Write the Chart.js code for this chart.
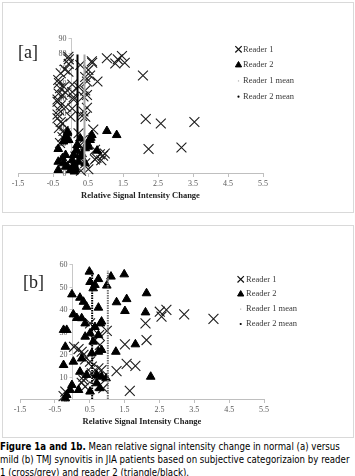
<!DOCTYPE html>
<html><head><meta charset="utf-8">
<script src="https://cdn.jsdelivr.net/npm/chart.js@4"></script>
<style>
html,body{margin:0;padding:0;background:#fff;}
body{width:355px;height:476px;position:relative;overflow:hidden;}
.panel{position:absolute;border:1px solid #d9d9d9;box-sizing:border-box;}
#pa{left:2px;top:2px;width:352px;height:211px;}
#pb{left:2px;top:225px;width:352px;height:213px;}
canvas{position:absolute;left:0;}
#ca{top:0;}
#cb{top:220px;}
#caption{position:absolute;left:0;top:440px;font-family:"DejaVu Sans Condensed","DejaVu Sans",sans-serif;font-stretch:condensed;font-size:9.6px;line-height:13px;white-space:nowrap;color:#000;}
</style></head>
<body>
<div class="panel" id="pa"></div>
<div class="panel" id="pb"></div>
<canvas id="ca" width="355" height="215"></canvas>
<canvas id="cb" width="355" height="217"></canvas>
<div id="caption"><b>Figure 1a and 1b.</b> Mean relative signal intensity change in normal (a) versus<br>mild (b) TMJ synovitis in JIA patients based on subjective categorizaion by reader<br>1 (cross/grey) and reader 2 (triangle/black).</div>
<script>
// ---- data ----
const xTicks = [-1.5, -0.5, 0.5, 1.5, 2.5, 3.5, 4.5, 5.5];
const yTicksA = [0, 10, 20, 30, 40, 50, 60, 70, 80, 90];
const yTicksB = [0, 10, 20, 30, 40, 50, 60];
const legendLabels = ["Reader 1", "Reader 2", "Reader 1 mean", "Reader 2 mean"];
const axisTitle = "Relative Signal Intensity Change";

// panel (a): normal
const reader1A = [
 [0.30,1.5],[0.51,2.5],[0.10,4.5],[0.42,6.5],[0.88,8.5],[0.70,9],[0.74,10],[0.14,11],[0.93,11.5],[0.84,12.5],
 [0.98,13],[0.20,14],[0.70,15.5],[2.23,16],[3.17,17],[0.28,18.5],[-0.30,20],[0.35,22],[-0.23,24],[0.23,26.5],
 [-0.20,28],[0.65,29],[-0.33,30],[-0.23,33],[2.58,33],[-0.28,34],[3.54,34],[2.15,36],[-0.37,36.5],[0.42,37.5],
 [0.00,37.5],[0.33,38],[-0.37,39],[0.37,41],[-0.33,42],[0.05,43],[0.47,43.5],[-0.14,44],[-0.28,45],[-0.37,47.5],
 [-0.37,49],[0.09,49],[0.09,50.5],[0.37,51],[-0.23,52],[0.47,52],[-0.34,53],[-0.14,53.5],[0.05,54],[0.42,55],
 [-0.30,56.5],[-0.19,57.5],[0.23,57.5],[0.05,59],[-0.33,60],[0.47,61],[0.77,61],[-0.35,62],[0.42,64],[0.56,65],
 [2.07,65],[-0.28,66.5],[-0.06,67.5],[0.51,68.7],[-0.16,69],[0.28,72],[-0.05,72.7],[1.28,73],[0.62,73.5],[1.55,73.5],
 [0.61,74.5],[-0.05,75.8],[1.35,75.8],[1.04,76.5],[-0.06,77.5],[1.47,78]
];
const reader2A = [
 [0.11,1],[-0.35,2],[0.00,2],[0.14,2.5],[-0.14,4.2],[-0.09,4.5],[0.09,5.3],[-0.20,6.5],[0.42,6.5],[-0.35,7.5],
 [0.23,7.5],[0.05,8.7],[-0.23,9.8],[0.31,11],[-0.14,12],[0.09,12],[0.33,12.5],[0.76,14.9],[0.17,15.3],[-0.35,16],
 [0.42,16.5],[0.51,17.5],[0.19,18.7],[0.48,19.8],[-0.20,21],[-0.05,22],[0.56,22],[0.28,23],[0.58,23.5],[-0.14,24],
 [0.61,25.3],[1.32,25.3],[-0.09,26.5],[-0.08,27.5],[1.04,28]
];
const reader1MeanA = 0.40;
const reader2MeanA = 0.20;
const meanTopA = 79;

// panel (b): mild
const reader1B = [
 [-0.25,1.3],[-0.20,3.3],[1.65,3.6],[0.89,4.8],[0.37,5.5],[0.78,6.0],[0.27,7.2],[0.32,8.4],[0.65,9.2],[0.32,9.9],
 [0.56,11.4],[1.27,12.4],[0.84,12.9],[0.75,13.6],[0.56,14.4],[1.81,14.7],[1.56,15.6],[0.51,16.6],[0.37,17.6],[0.32,19.6],
 [0.27,21],[0.18,22.2],[0.05,23.2],[0.79,24],[1.51,24.3],[0.65,26.2],[2.13,26.2],[0.77,28.4],[0.99,30.3],[0.51,33.6],
 [2.10,33.6],[4.05,35.6],[2.56,36.6],[3.21,37.6],[2.51,38.8],[2.70,39.6]
];
const reader2B = [
 [-0.20,0.3],[-0.16,1.8],[-0.06,4],[0.18,4],[0.51,3.3],[0.79,4.8],[-0.01,6.2],[0.70,7],[0.97,9.2],[0.84,9.9],
 [2.25,9.9],[0.41,10.7],[0.70,10.7],[0.22,12.1],[-0.25,15.1],[0.03,16.6],[0.27,18],[0.56,20.3],[1.25,21],[0.75,21],
 [0.84,21.8],[-0.20,23.2],[1.81,24.3],[0.60,25.5],[0.37,27.7],[0.75,28.4],[0.51,29.2],[-0.25,30.7],[-0.16,30.7],[0.65,32],
 [0.81,33.6],[0.37,33.6],[0.84,34.4],[0.27,35.9],[0.13,36],[0.03,37.6],[2.10,38.5],[1.51,39.1],[0.75,40.6],[0.41,41],
 [1.27,43],[0.32,43.2],[1.56,44.4],[0.22,45],[-0.01,46.5],[2.13,47],[0.60,49.2],[0.99,50.4],[0.65,50.7],[0.51,52],
 [0.75,53.3],[1.11,54.4],[1.49,55.4],[0.49,56.6]
];
const reader1MeanB = 1.02;
const reader2MeanB = 0.57;
const meanTopB = 57;

// ---- helpers ----
const pts = arr => arr.map(p => ({x: p[0], y: p[1]}));
const serif = '"Liberation Serif", "Times New Roman", serif';

const yAxisAtZero = {
  id: 'yAxisAtZero',
  beforeDatasetsDraw(chart, args, opts) {
    const {ctx} = chart; const x = chart.scales.x, y = chart.scales.y;
    const px = Math.round(x.getPixelForValue(0)) + 0.5;
    ctx.save();
    ctx.strokeStyle = '#c8c8c8'; ctx.lineWidth = 1;
    ctx.beginPath();
    ctx.moveTo(px, y.getPixelForValue(y.max));
    ctx.lineTo(px, y.getPixelForValue(y.min));
    ctx.stroke();
    ctx.font = '8px ' + serif; ctx.fillStyle = '#595959';
    ctx.textAlign = 'right'; ctx.textBaseline = 'middle';
    opts.ticks.forEach(v => {
      const py = Math.round(y.getPixelForValue(v)) + 0.5;
      ctx.beginPath(); ctx.moveTo(px - 3, py); ctx.lineTo(px, py); ctx.stroke();
      ctx.fillText(String(v), px - 5, py);
    });
    ctx.restore();
  }
};

const legendAndTag = {
  id: 'legendAndTag',
  afterDraw(chart, args, opts) {
    const {ctx} = chart;
    ctx.save();
    ctx.font = '18px ' + serif; ctx.fillStyle = '#222';
    ctx.textAlign = 'left'; ctx.textBaseline = 'middle';
    ctx.fillText(opts.tag, opts.tagX, opts.tagY);
    const styles = [
      {pointStyle: 'crossRot', radius: 4.5, borderWidth: 1.2, borderColor: '#111', backgroundColor: '#111'},
      {pointStyle: 'triangle', radius: 3.6, borderWidth: 1, borderColor: '#000', backgroundColor: '#000'},
      {pointStyle: 'circle', radius: 0.7, borderWidth: 0, borderColor: '#aaa', backgroundColor: '#aaa'},
      {pointStyle: 'circle', radius: 1.1, borderWidth: 0, borderColor: '#000', backgroundColor: '#000'}
    ];
    ctx.font = '8.5px ' + serif;
    legendLabels.forEach((lab, i) => {
      const yy = opts.y + i * opts.dy;
      const st = styles[i];
      ctx.strokeStyle = st.borderColor; ctx.fillStyle = st.backgroundColor; ctx.lineWidth = st.borderWidth;
      Chart.helpers.drawPoint(ctx, {pointStyle: st.pointStyle, radius: st.radius, borderWidth: st.borderWidth, rotation: 0}, opts.mx, yy);
      ctx.fillStyle = '#3a3a3a';
      ctx.fillText(lab, opts.tx, yy);
    });
    ctx.restore();
  }
};

function makeChart(id, r1, r2, m1, m2, mTop, yMax, yTicks, pad, dotted, leg) {
  const dash = dotted ? [1.5, 1] : [];
  return new Chart(document.getElementById(id), {
    type: 'scatter',
    data: {datasets: [
      {label: legendLabels[0], data: pts(r1), pointStyle: 'crossRot', pointRadius: 7, pointBorderWidth: 1.1,
       borderColor: '#1c1c1c', backgroundColor: '#1c1c1c', order: 4, clip: false},
      {label: legendLabels[1], data: pts(r2), pointStyle: 'triangle', pointRadius: 5, pointBorderWidth: 1,
       borderColor: '#000', backgroundColor: '#000', order: 3, clip: false},
      {label: legendLabels[2], data: [{x: m1, y: 0}, {x: m1, y: mTop}], showLine: true, pointRadius: 0,
       borderColor: dotted ? '#707070' : '#a6a6a6', borderWidth: 2, borderDash: dash, order: 2, clip: false},
      {label: legendLabels[3], data: [{x: m2, y: 0}, {x: m2, y: mTop}], showLine: true, pointRadius: 0,
       borderColor: '#000', borderWidth: 2, borderDash: dash, order: 1, clip: false}
    ]},
    options: {
      responsive: false, animation: false, devicePixelRatio: 1,
      layout: {padding: pad},
      plugins: {
        legend: {display: false}, tooltip: {enabled: false},
        yAxisAtZero: {ticks: yTicks},
        legendAndTag: leg
      },
      scales: {
        x: {
          type: 'linear', min: xTicks[0], max: xTicks[xTicks.length - 1],
          afterBuildTicks: s => { s.ticks = xTicks.map(v => ({value: v})); },
          afterFit: s => { s.height = 30; },
          grid: {drawOnChartArea: false, drawTicks: true, tickLength: 4, color: '#bfbfbf'},
          border: {color: '#bfbfbf', width: 1},
          ticks: {font: {family: serif, size: 8}, color: '#595959', padding: 2, maxRotation: 0, autoSkip: false,
                  callback: v => Number(v).toFixed(1)},
          title: {display: true, text: axisTitle, font: {family: serif, size: 8.5, weight: 'bold'}, color: '#222',
                  padding: {top: 4, bottom: 2}}
        },
        y: {type: 'linear', min: 0, max: yMax, display: false}
      }
    },
    plugins: [yAxisAtZero, legendAndTag]
  });
}

makeChart('ca', reader1A, reader2A, reader1MeanA, reader2MeanA, meanTopA, 90, yTicksA,
  {left: 18, right: 92, top: 38, bottom: 12}, false,
  {tag: '[a]', tagX: 18, tagY: 53, mx: 238.5, tx: 243, y: 49.3, dy: 15.8});
makeChart('cb', reader1B, reader2B, reader1MeanB, reader2MeanB, meanTopB, 60, yTicksB,
  {left: 20, right: 91, top: 44, bottom: 8}, true,
  {tag: '[b]', tagX: 23, tagY: 63, mx: 240.7, tx: 246, y: 59.3, dy: 14.9});
</script>
</body></html>
